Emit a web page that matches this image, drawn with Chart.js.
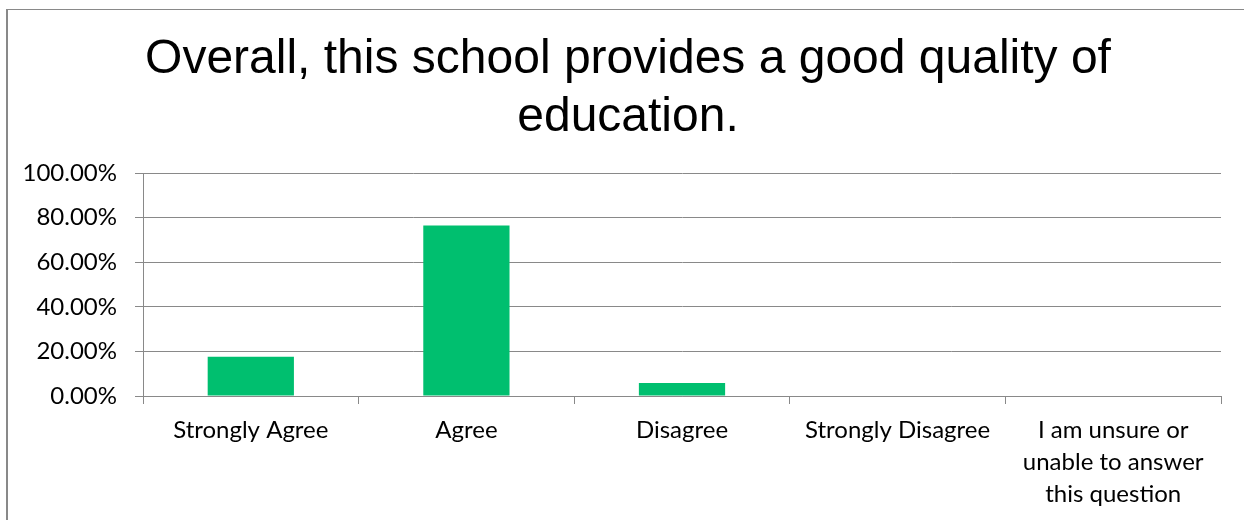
<!DOCTYPE html>
<html>
<head>
<meta charset="utf-8">
<script src="https://cdn.jsdelivr.net/npm/chart.js@4.4.1/dist/chart.umd.min.js"></script>
<style>
  html, body { margin: 0; padding: 0; background: #fff; }
  #wrap { position: relative; width: 1244px; height: 520px; overflow: hidden; }
  #marco { position: absolute; left: 6px; top: 9px; width: 1300px; height: 600px;
           border-left: 2px solid #898989; border-top: 1px solid #898989; pointer-events: none; }
</style>
</head>
<body>
<div id="wrap">
  <canvas id="grafico" width="1244" height="520"></canvas>
  <div id="marco"></div>
</div>
<script>
// Respuestas a la pregunta (porcentaje de encuestados)
const categorias = [
  'Strongly Agree',
  'Agree',
  'Disagree',
  'Strongly Disagree',
  ['I am unsure or', 'unable to answer', 'this question']
];
const porcentajes = [17.65, 76.47, 5.88, 0, 0];
const ticksY = [0, 20, 40, 60, 80, 100];
const titulo = ['Overall, this school provides a good quality of', 'education.'];

const gris = '#898989';
const verde = '#00BF6F';
const fuenteEjes = { family: 'Lato, "Noto Sans", sans-serif', size: 24 };

const ctx = document.getElementById('grafico').getContext('2d');

new Chart(ctx, {
  type: 'bar',
  data: {
    labels: categorias,
    datasets: [{
      data: porcentajes,
      backgroundColor: verde,
      borderWidth: 0,
      barPercentage: 0.4,
      categoryPercentage: 1
    }]
  },
  options: {
    responsive: false,
    animation: false,
    devicePixelRatio: 1,
    // el margen izquierdo desplaza el título; el eje derecho vacío deja el hueco a la derecha
    layout: { padding: { left: 12, right: 0, top: 0, bottom: 0 } },
    plugins: {
      legend: { display: false },
      tooltip: { enabled: false },
      title: {
        display: true,
        text: titulo,
        color: '#000',
        font: { family: '"Liberation Sans", Arial, sans-serif', size: 48, weight: 'normal', lineHeight: 1.2 },
        padding: { top: 31, bottom: 27 }
      }
    },
    scales: {
      x: {
        grid: { display: true, offset: true, drawOnChartArea: false, drawTicks: true, tickLength: 8, color: gris, lineWidth: 1 },
        border: { display: true, color: gris, width: 1 },
        ticks: { color: '#000', font: { ...fuenteEjes, lineHeight: 1.33 }, padding: 10, maxRotation: 0, autoSkip: false },
        afterFit: (s) => { s.height = 124; }
      },
      y: {
        min: 0,
        max: 100,
        afterBuildTicks: (s) => { s.ticks = ticksY.map(v => ({ value: v })); },
        grid: { color: gris, lineWidth: 1, tickLength: 8, drawTicks: true },
        border: { display: true, color: gris, width: 1 },
        ticks: { color: '#000', font: fuenteEjes, padding: 18, callback: (v) => v.toFixed(2) + '%' },
        afterFit: (s) => { s.width = 131; }
      },
      yDer: {
        position: 'right',
        display: true,
        grid: { display: false },
        border: { display: false },
        ticks: { display: false },
        afterFit: (s) => { s.width = 23; }
      }
    }
  }
});
</script>
</body>
</html>
